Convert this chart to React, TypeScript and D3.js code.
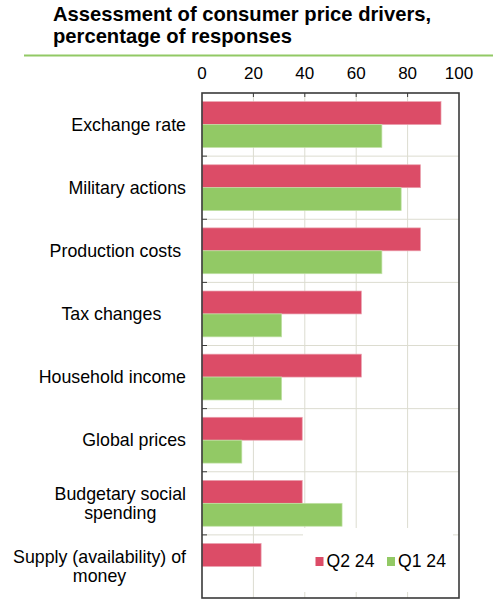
import React, { useEffect, useRef } from 'react';
import * as d3 from 'd3';

// categories, top to bottom
const categories = [
  'Exchange rate',
  'Military actions',
  'Production costs ',
  'Tax changes     ',
  'Household income',
  'Global prices',
  'Budgetary social\nspending',
  'Supply (availability) of\nmoney',
];

const seriesNames = ['Q2 24', 'Q1 24'];
const q2Values = [93, 85, 85, 62, 62, 39, 39, 23];
const q1Values = [70, 77.5, 70, 31, 31, 15.5, 54.5, 0];
const xTicks = [0, 20, 40, 60, 80, 100];

const colors = ['#dc4c67', '#92c965'];
const font = '"Liberation Sans", Arial, sans-serif';

const W = 493;
const H = 601;
const margin = { top: 93, right: 34, bottom: 3, left: 202 };

const App: React.FC = () => {
  const ref = useRef<SVGSVGElement>(null);

  useEffect(() => {
    if (!ref.current) return;
    const svg = d3.select(ref.current);
    svg.selectAll('*').remove();

    const x = d3.scaleLinear().domain([0, 100]).range([margin.left, W - margin.right]);
    const y = d3.scaleBand<string>().domain(categories).range([margin.top, H - margin.bottom]).padding(0);
    const bandPad = y.bandwidth() * 0.137;
    const sub = d3.scaleBand<string>().domain(seriesNames).range([bandPad, y.bandwidth() - bandPad]);

    const values = [q2Values, q1Values];
    const x0 = x(0), x1 = x(100);
    const y0 = margin.top, y1 = H - margin.bottom;

    // Title
    const title = svg.append('g').style('font-family', font).style('font-weight', 'bold').style('font-size', '20.2px').attr('fill', '#000');
    title.append('text').attr('x', 53).attr('y', 20.5).text('Assessment of consumer price drivers,');
    title.append('text').attr('x', 53).attr('y', 43).text('percentage of responses');

    svg.append('line')
      .attr('x1', 24).attr('x2', W).attr('y1', 55.5).attr('y2', 55.5)
      .attr('stroke', '#92c965').attr('stroke-width', 2);

    // Grid
    const grid = svg.append('g').attr('stroke', '#dcdcd0').attr('stroke-width', 1);
    xTicks.slice(1, -1).forEach(t => {
      grid.append('line').attr('x1', x(t)).attr('x2', x(t)).attr('y1', y0).attr('y2', y1);
    });
    categories.slice(1).forEach(c => {
      const yy = y(c)!;
      grid.append('line').attr('x1', x0).attr('x2', x1).attr('y1', yy).attr('y2', yy);
    });

    // Bars
    seriesNames.forEach((s, si) => {
      svg.append('g')
        .selectAll('rect')
        .data(categories.map((c, i) => ({ c, v: values[si][i] })).filter(d => d.v > 0))
        .join('rect')
        .attr('x', x0)
        .attr('y', d => y(d.c)! + sub(s)!)
        .attr('width', d => x(d.v) - x0)
        .attr('height', sub.bandwidth())
        .attr('fill', colors[si])
        .attr('stroke', si === 0 ? '#eaa0ae' : '#c3e2a8')
        .attr('stroke-width', 0.7);
    });

    // Legend box
    const lg = svg.append('g').style('font-family', font).style('font-size', '17.6px');
    lg.append('rect').attr('x', 303).attr('y', 528).attr('width', 150).attr('height', 64).attr('fill', '#fff');
    const legendX = [315.5, 387];
    seriesNames.forEach((s, i) => {
      lg.append('rect').attr('x', legendX[i]).attr('y', 557).attr('width', 8).attr('height', 9).attr('fill', colors[i]);
      lg.append('text').attr('x', legendX[i] + 11).attr('y', 567).attr('fill', '#000').text(s);
    });

    // Frame and ticks
    const axis = svg.append('g').attr('stroke', '#3a3a3a');
    xTicks.slice(1, -1).forEach(t => {
      axis.append('line').attr('x1', x(t)).attr('x2', x(t)).attr('y1', y0).attr('y2', y0 + 4).attr('stroke-width', 1);
    });
    categories.slice(1).forEach(c => {
      const yy = y(c)!;
      axis.append('line').attr('x1', x0).attr('x2', x0 + 5).attr('y1', yy).attr('y2', yy).attr('stroke-width', 1);
    });
    axis.append('rect')
      .attr('x', x0).attr('y', y0).attr('width', x1 - x0).attr('height', y1 - y0)
      .attr('fill', 'none').attr('stroke-width', 1.6);

    // Tick labels
    svg.append('g').style('font-family', font).style('font-size', '17px')
      .selectAll('text').data(xTicks).join('text')
      .attr('x', d => x(d)).attr('y', 78.5).attr('text-anchor', 'middle').attr('fill', '#000')
      .text(d => d);

    // Category labels, lines centred on each other, block right-aligned
    const labels = svg.append('g').style('font-family', font).style('font-size', '17.8px').attr('fill', '#000');
    const labelRight = 186;
    const lineH = 19.5;
    categories.forEach(c => {
      const lines = c.split('\n');
      const cy = y(c)! + y.bandwidth() / 2;
      const t = labels.append('text').style('white-space', 'pre');
      const spans = lines.map((ln, i) =>
        t.append('tspan').attr('y', cy + (i - (lines.length - 1) / 2) * lineH + 6).text(ln)
      );
      if (lines.length === 1) {
        t.attr('text-anchor', 'end');
        spans[0].attr('x', labelRight);
      } else {
        const widths = spans.map(sp => (sp.node() as SVGTSpanElement).getComputedTextLength());
        const cx = labelRight - d3.max(widths)! / 2;
        t.attr('text-anchor', 'middle');
        spans.forEach(sp => sp.attr('x', cx));
      }
    });
  }, []);

  return (
    <div style={{ width: W, height: H }}>
      <svg ref={ref} width={W} height={H} style={{ position: 'absolute', left: 0, top: 0, background: '#fff' }} />
    </div>
  );
};

export default App;
